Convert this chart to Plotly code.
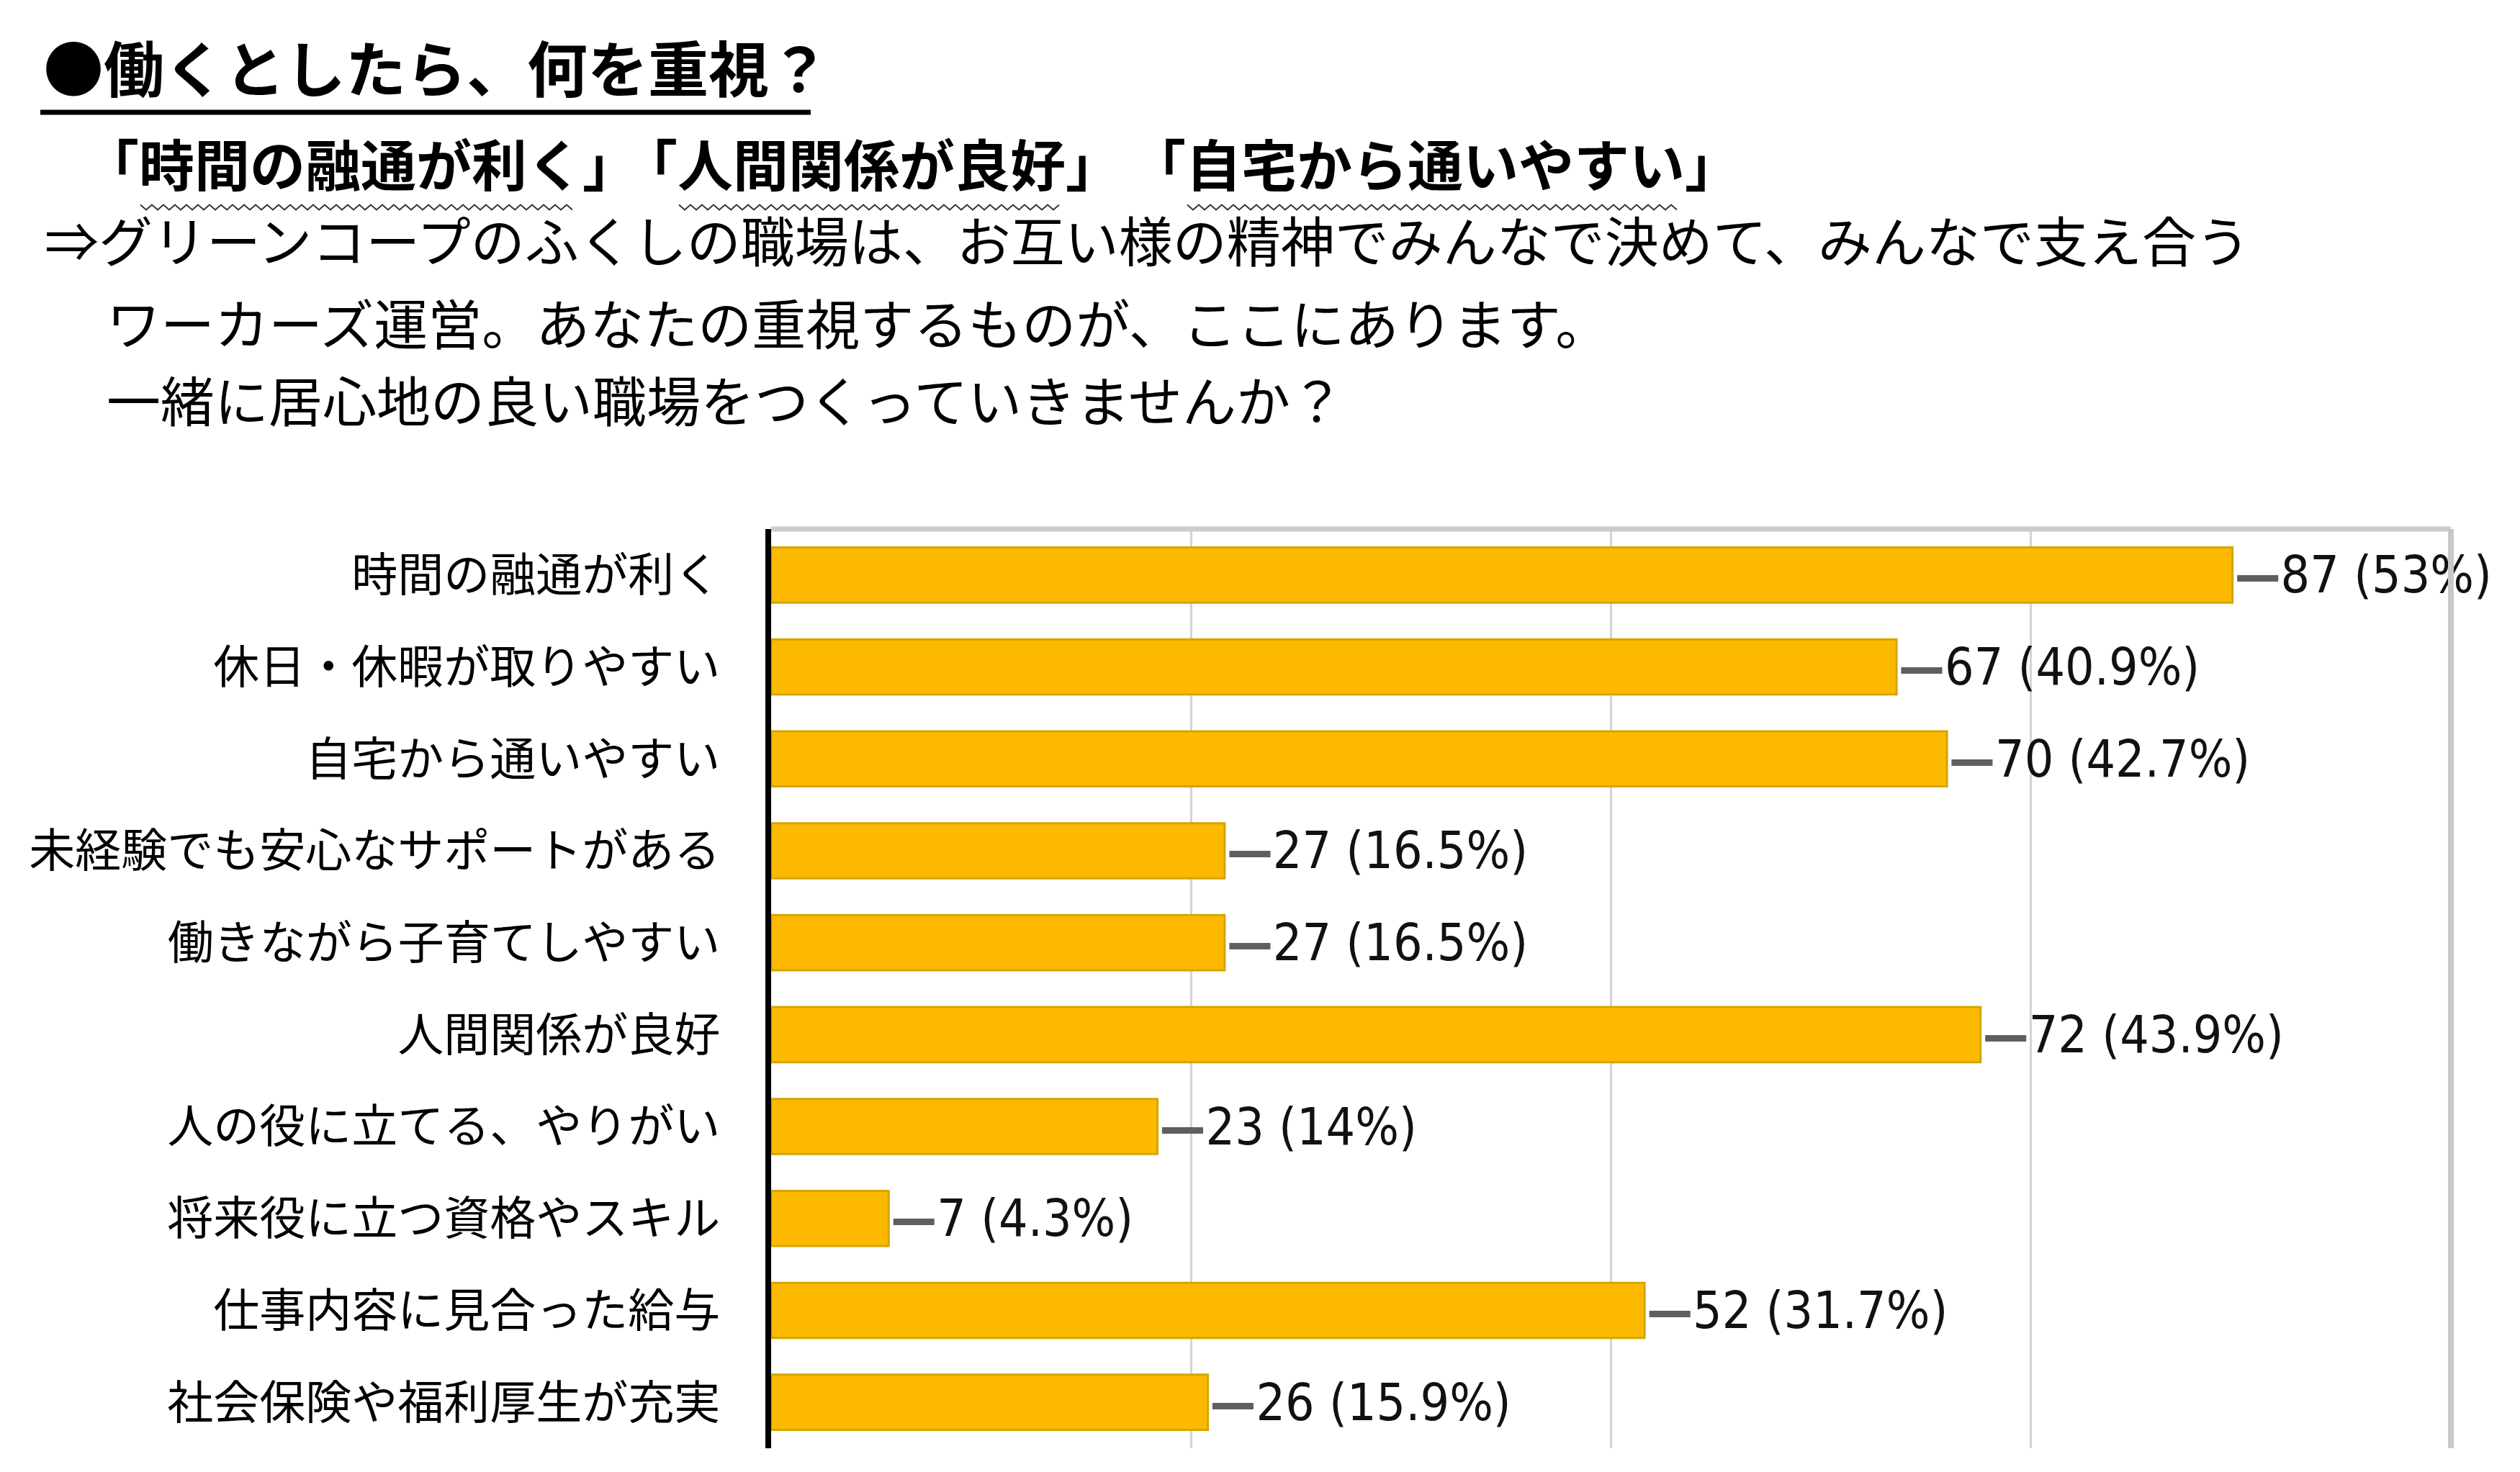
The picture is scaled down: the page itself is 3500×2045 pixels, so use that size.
import plotly.graph_objects as go

# ---- data ----
categories = [
    "時間の融通が利く",
    "休日・休暇が取りやすい",
    "自宅から通いやすい",
    "未経験でも安心なサポートがある",
    "働きながら子育てしやすい",
    "人間関係が良好",
    "人の役に立てる、やりがい",
    "将来役に立つ資格やスキル",
    "仕事内容に見合った給与",
    "社会保険や福利厚生が充実",
]
counts = [87, 67, 70, 27, 27, 72, 23, 7, 52, 26]
percents = ["53", "40.9", "42.7", "16.5", "16.5", "43.9", "14", "4.3", "31.7", "15.9"]
x_ticks = [0, 25, 50, 75, 100]

title_text = "●働くとしたら、何を重視？"
highlight_groups = ["時間の融通が利く", "人間関係が良好", "自宅から通いやすい"]
body_lines = [
    "⇒グリーンコープのふくしの職場は、お互い様の精神でみんなで決めて、みんなで支え合う",
    "ワーカーズ運営。あなたの重視するものが、ここにあります。",
    "一緒に居心地の良い職場をつくっていきませんか？",
]

# ---- layout geometry (pixels) ----
W, H = 3500, 2045
L, R, T, B = 1063, 3396, 727, 2004
JP = "Noto Sans CJK JP"
NARROW = "Liberation Sans Narrow, DejaVu Sans Condensed, Arial Narrow, sans-serif"


def px(xp):
    return (xp - L) / (R - L)


def py(yp):
    return (B - yp) / (B - T)


labels = [
    f'<span style="color:#5f5f5f"><b>—</b></span>{c} ({p}%)' for c, p in zip(counts, percents)
]

fig = go.Figure(
    go.Bar(
        x=counts,
        y=categories,
        orientation="h",
        width=0.6,
        marker=dict(color="#FDB900", line=dict(color="#D2A600", width=3)),
        text=labels,
        textposition="outside",
        constraintext="none",
        cliponaxis=False,
        textfont=dict(family=NARROW, size=71, color="#111111"),
        hoverinfo="skip",
    )
)

annotations = []
# title
annotations.append(
    dict(
        x=px(50), y=py(84), xref="paper", yref="paper", xanchor="left", yanchor="middle",
        text=f"<b>{title_text}</b>", showarrow=False,
        font=dict(family=JP, size=84, color="#000000"),
    )
)
# highlight line (three bracketed groups)
group_starts = [106, 854, 1560]
sub_size = 77
shapes = []
for g, x0 in zip(highlight_groups, group_starts):
    annotations.append(
        dict(
            x=px(x0), y=py(218), xref="paper", yref="paper", xanchor="left", yanchor="middle",
            text=f"<b>「{g}」</b>", showarrow=False,
            font=dict(family=JP, size=sub_size, color="#000000"),
        )
    )
    # wavy underline beneath the words
    ws = x0 + sub_size + 4
    we = x0 + sub_size * (len(g) + 1) - 6
    period = 16
    amp = 3.5
    yc = 280
    pts = []
    xx = ws
    up = True
    while xx <= we:
        pts.append((xx, yc - amp if up else yc + amp))
        up = not up
        xx += period / 2
    path = "M " + " L ".join(f"{px(a):.6f},{py(b):.6f}" for a, b in pts)
    shapes.append(dict(type="path", xref="paper", yref="paper", path=path,
                       line=dict(color="#333333", width=2)))

# body lines
body_x = [52, 138, 138]
body_y = [323, 438, 545]
for t, bx, by in zip(body_lines, body_x, body_y):
    annotations.append(
        dict(
            x=px(bx), y=py(by), xref="paper", yref="paper", xanchor="left", yanchor="middle",
            text=t, showarrow=False,
            font=dict(family=JP, size=75, color="#000000"),
        )
    )

# title underline
shapes.append(dict(type="line", xref="paper", yref="paper",
                   x0=px(48), x1=px(1118), y0=py(148), y1=py(148),
                   line=dict(color="#000000", width=7)))
# top and right frame of the plot
shapes.append(dict(type="line", xref="paper", yref="paper",
                   x0=0, x1=1, y0=1, y1=1, line=dict(color="#cccccc", width=7)))
shapes.append(dict(type="line", xref="paper", yref="paper",
                   x0=1, x1=1, y0=0, y1=1, line=dict(color="#c8c8c8", width=8)))

fig.update_layout(
    width=W, height=H,
    margin=dict(l=L, r=W - R, t=T, b=H - B, pad=0, autoexpand=False),
    paper_bgcolor="white", plot_bgcolor="white",
    showlegend=False,
    bargap=0.4,
    annotations=annotations,
    shapes=shapes,
    xaxis=dict(
        range=[0, 100], tickvals=x_ticks, showticklabels=False,
        showgrid=True, gridcolor="#d4d4d4", gridwidth=3,
        zeroline=False, showline=False, ticks="", fixedrange=True,
        automargin=False,
    ),
    yaxis=dict(
        categoryorder="array", categoryarray=categories, autorange="reversed",
        showline=True, linecolor="#000000", linewidth=8,
        ticks="", ticklabelstandoff=50, automargin=False,
        tickfont=dict(family=JP, size=64, color="#000000"),
        showgrid=False, zeroline=False, fixedrange=True,
    ),
)

fig.write_html("out.html")
